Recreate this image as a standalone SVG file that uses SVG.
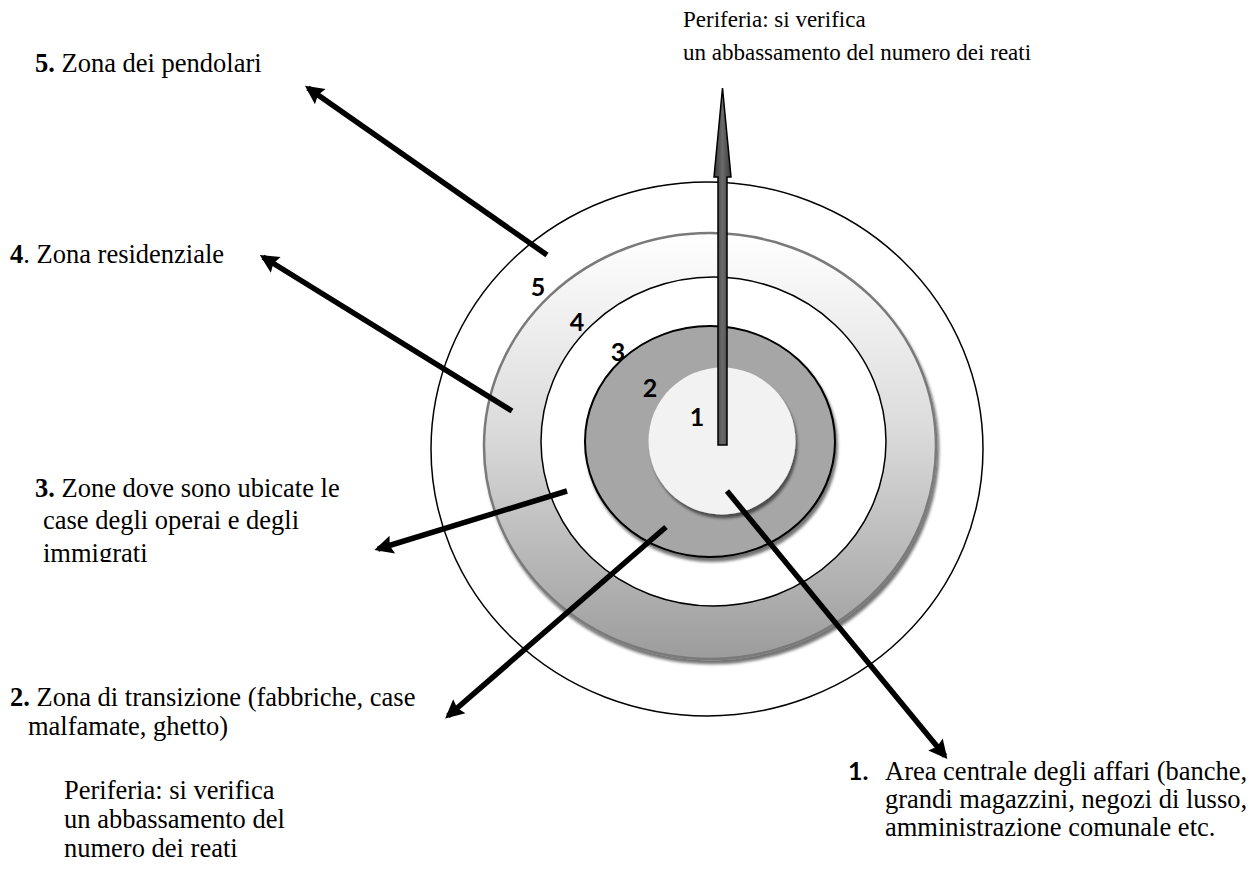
<svg xmlns="http://www.w3.org/2000/svg" width="1257" height="891" viewBox="0 0 1257 891">
  <style>
    .serif { font-family: "Liberation Serif", "Times New Roman", serif; font-size: 26.5px; fill: #000; }
    .top { font-size: 23px; }
    .bold { font-weight: bold; }
    .num { font-family: Lato, "Open Sans", "Liberation Sans", sans-serif; font-weight: bold; font-size: 25px; fill: #000; }
    .ring { stroke: #000; stroke-width: 1.5; fill: #fff; }
    .conn { stroke: #000; stroke-width: 5.5; fill: none; marker-end: url(#head); }
  </style>
  <defs>
    <marker id="head" viewBox="0 0 10 10" refX="8" refY="5" markerWidth="4.2" markerHeight="3.4" orient="auto" markerUnits="strokeWidth">
      <path d="M0,0 L10,5 L0,10 L1.5,5 Z" fill="#000"/>
    </marker>
    <linearGradient id="band" x1="0" y1="0" x2="0" y2="1">
      <stop offset="0" stop-color="#ffffff"/>
      <stop offset="0.45" stop-color="#dcdcdc"/>
      <stop offset="1" stop-color="#9c9c9c"/>
    </linearGradient>
    <linearGradient id="shaft" x1="0" y1="0" x2="1" y2="0">
      <stop offset="0" stop-color="#3a3a3a"/>
      <stop offset="0.5" stop-color="#6a6a6a"/>
      <stop offset="1" stop-color="#3a3a3a"/>
    </linearGradient>
    <filter id="shadow" x="-10%" y="-10%" width="120%" height="125%">
      <feGaussianBlur in="SourceAlpha" stdDeviation="1.5"/>
      <feOffset dx="2" dy="4" result="b"/>
      <feComponentTransfer><feFuncA type="linear" slope="0.55"/></feComponentTransfer>
      <feMerge><feMergeNode/><feMergeNode in="SourceGraphic"/></feMerge>
    </filter>
    <clipPath id="cut3">
      <rect x="0" y="440" width="420" height="122"/>
    </clipPath>
  </defs>

  <rect width="1257" height="891" fill="#fff"/>

  <!-- concentric zones, outermost first -->
  <g id="zone-outer">
    <ellipse class="ring" cx="707" cy="449" rx="276" ry="267"/>
  </g>
  <g id="zone-5">
    <ellipse cx="710" cy="446" rx="226" ry="213" fill="url(#band)" stroke="#7a7a7a" stroke-width="2.5" filter="url(#shadow)"/>
  </g>
  <g id="zone-4">
    <ellipse class="ring" cx="713.5" cy="441.5" rx="172.5" ry="164.5"/>
  </g>
  <g id="zone-2">
    <ellipse cx="710" cy="441.5" rx="125" ry="115.5" fill="#a6a6a6" stroke="#000" stroke-width="2" filter="url(#shadow)"/>
  </g>
  <g id="zone-1">
    <circle cx="722" cy="441" r="73.5" fill="#f2f2f2" filter="url(#shadow)"/>
  </g>

  <!-- zone numbers -->
  <g id="zone-numbers">
    <text class="num" x="538" y="296" text-anchor="middle">5</text>
    <text class="num" x="577" y="331" text-anchor="middle">4</text>
    <text class="num" x="618" y="361" text-anchor="middle">3</text>
    <text class="num" x="650" y="397" text-anchor="middle">2</text>
    <text class="num" x="697" y="426" text-anchor="middle">1</text>
  </g>

  <!-- connectors -->
  <g id="connectors">
    <line class="conn" x1="547" y1="255" x2="308" y2="88"/>
    <line class="conn" x1="512" y1="411" x2="263" y2="257"/>
    <line class="conn" x1="567" y1="491" x2="378" y2="549"/>
    <line class="conn" x1="666" y1="527" x2="448" y2="716"/>
    <line class="conn" x1="727" y1="491" x2="945" y2="756"/>
    <!-- vertical block arrow towards the periphery -->
    <polygon points="718,445 727,445 727,177 731,177 722.5,88 714,177 718,177" fill="url(#shaft)" stroke="#000" stroke-width="1.5" stroke-linejoin="miter"/>
  </g>

  <!-- labels -->
  <g id="label-top">
    <text class="serif top" x="683" y="27">Periferia: si verifica</text>
    <text class="serif top" x="683" y="60">un abbassamento del numero dei reati</text>
  </g>
  <g id="label-5">
    <text class="serif" x="35" y="72"><tspan class="bold">5.</tspan> Zona dei pendolari</text>
  </g>
  <g id="label-4">
    <text class="serif" x="10" y="263"><tspan class="bold">4</tspan>. Zona residenziale</text>
  </g>
  <g id="label-3" clip-path="url(#cut3)">
    <text class="serif" x="35" y="497"><tspan class="bold">3.</tspan> Zone dove sono ubicate le</text>
    <text class="serif" x="43" y="529">case degli operai e degli</text>
    <text class="serif" x="43" y="562">immigrati</text>
  </g>
  <g id="label-2">
    <text class="serif" x="10" y="706"><tspan class="bold">2.</tspan> Zona di transizione (fabbriche, case</text>
    <text class="serif" x="28" y="735">malfamate, ghetto)</text>
    <text class="serif" x="64" y="799">Periferia: si verifica</text>
    <text class="serif" x="64" y="828">un abbassamento del</text>
    <text class="serif" x="64" y="857">numero dei reati</text>
  </g>
  <g id="label-1">
    <text class="num" x="848" y="780">1.</text>
    <text class="serif" x="885" y="780">Area centrale degli affari (banche,</text>
    <text class="serif" x="885" y="808">grandi magazzini, negozi di lusso,</text>
    <text class="serif" x="885" y="836">amministrazione comunale etc.</text>
  </g>
</svg>
